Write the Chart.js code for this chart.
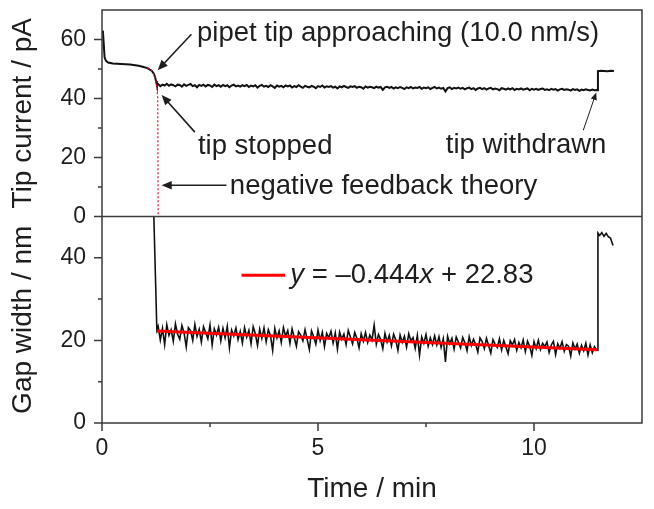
<!DOCTYPE html>
<html>
<head>
<meta charset="utf-8">
<script src="https://cdn.jsdelivr.net/npm/chart.js@4/dist/chart.umd.min.js"></script>
<style>
  body { margin: 0; background: #fff; }
  #wrap { width: 654px; height: 509px; position: relative; }
</style>
</head>
<body>
<div id="wrap"><canvas id="chart"></canvas></div>
<script>
// --- data ---
const xTicks = [0, 5, 10];
const xMinor = [2.5, 7.5];
const topTicks = [0, 20, 40, 60];
const topMinor = [10, 30, 50];
const botTicks = [0, 20, 40];
const botMinor = [10, 30];

// tip current while approaching (pA)
const approachTime = [0.02, 0.04, 0.06, 0.09, 0.14, 0.25, 0.45, 0.65, 0.85, 0.96, 1.05, 1.15, 1.20, 1.23, 1.25, 1.27];
const approachCurrent = [63.0, 58.5, 54.0, 52.8, 52.2, 51.9, 51.7, 51.5, 51.1, 50.7, 50.3, 49.4, 48.4, 47.2, 45.9, 44.6];

// noisy part after the tip stopped (shared time base, min)
const noiseTime = [
  1.30,1.35,1.40,1.45,1.50,1.55,1.60,1.65,1.70,1.75,
  1.80,1.85,1.90,1.95,2.00,2.05,2.10,2.15,2.20,2.25,
  2.30,2.35,2.40,2.45,2.50,2.55,2.60,2.65,2.70,2.75,
  2.80,2.85,2.90,2.95,3.00,3.05,3.10,3.15,3.20,3.25,
  3.30,3.35,3.40,3.45,3.50,3.55,3.60,3.65,3.70,3.75,
  3.80,3.85,3.90,3.95,4.00,4.05,4.10,4.15,4.20,4.25,
  4.30,4.35,4.40,4.45,4.50,4.55,4.60,4.65,4.70,4.75,
  4.80,4.85,4.90,4.95,5.00,5.05,5.10,5.15,5.20,5.25,
  5.30,5.35,5.40,5.45,5.50,5.55,5.60,5.65,5.70,5.75,
  5.80,5.85,5.90,5.95,6.00,6.05,6.10,6.15,6.20,6.25,
  6.30,6.35,6.40,6.45,6.50,6.55,6.60,6.65,6.70,6.75,
  6.80,6.85,6.90,6.95,7.00,7.05,7.10,7.15,7.20,7.25,
  7.30,7.35,7.40,7.45,7.50,7.55,7.60,7.65,7.70,7.75,
  7.80,7.85,7.90,7.95,8.00,8.05,8.10,8.15,8.20,8.25,
  8.30,8.35,8.40,8.45,8.50,8.55,8.60,8.65,8.70,8.75,
  8.80,8.85,8.90,8.95,9.00,9.05,9.10,9.15,9.20,9.25,
  9.30,9.35,9.40,9.45,9.50,9.55,9.60,9.65,9.70,9.75,
  9.80,9.85,9.90,9.95,10.00,10.05,10.10,10.15,10.20,10.25,
  10.30,10.35,10.40,10.45,10.50,10.55,10.60,10.65,10.70,10.75,
  10.80,10.85,10.90,10.95,11.00,11.05,11.10,11.15,11.20,11.25,
  11.30,11.35,11.40,11.45
];
const noiseCurrent = [
  44.9,44.2,44.7,44.4,45.0,44.3,44.8,44.5,44.1,44.7,
  44.6,44.0,44.8,44.3,44.6,44.9,44.2,44.5,43.8,44.6,
  44.3,44.7,44.1,44.6,44.4,43.9,44.7,44.2,44.5,44.0,
  44.6,44.2,44.5,43.8,44.4,44.7,44.1,44.4,44.0,44.5,
  44.2,44.6,43.9,44.4,44.1,44.5,43.7,44.3,44.6,44.0,
  44.3,43.9,44.5,44.1,43.6,44.4,44.0,44.3,43.8,44.4,
  44.1,44.4,43.7,44.2,43.9,44.5,44.0,43.6,44.3,44.0,
  43.8,44.3,44.0,43.5,44.2,43.9,44.4,43.7,44.1,43.9,
  44.2,43.7,44.0,43.4,44.1,43.8,44.3,43.9,43.6,44.1,
  43.9,44.2,43.6,44.0,43.8,43.3,44.1,43.7,44.0,43.8,
  43.5,44.0,43.7,43.9,42.9,43.8,44.0,43.6,43.9,43.4,
  43.8,43.5,43.9,43.6,43.2,43.8,43.5,43.9,43.4,43.7,
  43.6,43.9,43.3,43.7,43.5,43.8,43.2,43.6,43.9,43.4,
  43.7,43.3,43.6,42.4,43.5,43.8,43.2,43.6,43.4,43.7,
  43.3,43.6,43.1,43.5,43.7,43.2,43.5,42.9,43.4,43.6,
  43.2,43.5,43.0,43.4,43.6,43.1,43.4,43.2,42.8,43.5,
  43.3,43.0,43.4,43.1,43.5,42.9,43.3,43.1,43.4,43.0,
  43.2,43.4,42.8,43.3,43.0,43.3,42.9,43.2,43.4,42.9,
  43.1,42.8,43.3,43.0,43.2,42.7,43.1,43.3,42.9,43.1,
  43.0,42.7,43.2,42.9,43.1,42.6,43.0,42.8,43.1,42.9,
  42.7,43.0,42.8,42.9
];
const noiseGap = [
  23.4,20.1,22.9,19.0,23.8,21.2,22.6,19.8,24.0,21.5,
  20.3,23.6,21.8,18.4,23.1,22.4,20.0,23.9,21.0,22.7,
  19.6,23.3,21.9,20.4,23.7,18.9,22.8,21.3,23.2,19.9,
  22.9,20.6,23.4,18.2,22.5,21.1,23.0,20.2,22.2,19.4,
  23.1,20.8,22.4,19.2,23.3,21.6,18.8,22.7,20.5,23.0,
  19.7,22.6,21.2,17.6,22.9,20.6,22.3,19.5,23.1,21.0,
  22.4,19.3,22.8,20.7,18.6,22.1,21.3,19.9,22.6,20.2,
  17.8,22.3,20.9,19.1,22.5,20.0,22.0,18.5,21.7,20.6,
  22.2,19.4,21.8,17.9,22.0,20.3,21.5,19.0,22.4,20.8,
  19.2,21.9,20.5,18.2,21.6,19.8,21.9,19.5,21.3,20.1,
  23.7,19.1,21.4,20.2,18.0,21.7,19.6,21.2,18.7,21.5,
  20.1,17.6,21.3,19.5,21.0,18.4,21.6,19.9,20.7,18.1,
  21.2,16.4,20.8,19.3,21.4,18.6,20.6,19.0,21.1,18.9,
  20.9,18.3,20.4,14.8,21.0,19.2,20.5,17.9,20.8,19.6,
  18.2,20.7,19.4,17.5,20.9,18.8,20.3,19.0,17.2,20.6,
  19.7,18.0,20.5,18.7,16.9,20.2,19.1,18.3,20.4,17.7,
  20.0,18.4,16.8,19.9,18.9,20.2,17.6,19.5,18.2,20.1,
  17.3,19.8,18.6,16.4,19.7,18.0,20.0,17.8,19.3,18.5,
  19.6,17.1,18.9,19.8,16.6,19.2,18.1,19.7,17.4,19.0,
  18.6,16.2,19.4,17.9,19.1,16.9,18.8,17.5,19.3,16.5,
  18.9,17.0,18.5,17.6
];

// tip withdrawn
const withdrawTime = [11.47, 11.48, 11.55, 11.62, 11.70, 11.78, 11.85];
const withdrawCurrent = [42.8, 49.3, 49.4, 49.3, 49.2, 49.4, 49.3];
const withdrawGapTime = [11.47, 11.48, 11.52, 11.57, 11.62, 11.67, 11.72, 11.77, 11.83];
const withdrawGap = [17.6, 46.0, 45.4, 46.1, 45.2, 45.9, 45.1, 44.8, 43.0];

// gap width before the tip stopped (enters from above the panel)
const gapStartTime = [1.20, 1.27];
const gapStart = [50, 22.5];

// negative feedback theory (red dotted)
const theoryTime = [1.05, 1.15, 1.22, 1.26, 1.29, 1.30];
const theoryCurrent = [50.5, 49.5, 47.6, 45.3, 40.0, 0.3];

// linear fit y = -0.444x + 22.83
const fitTime = [1.27, 11.47];
const fitGap = [22.27, 17.74];

const axisColor = '#3c3c3c';
const textColor = '#1e1e1e';
const fontFamily = '"Liberation Sans", Arial, Helvetica, sans-serif';

function pts(xs, ys) {
  return xs.map((x, i) => ({ x: x, y: ys[i] }));
}

const currentData = pts(approachTime, approachCurrent)
  .concat(pts(noiseTime, noiseCurrent))
  .concat(pts(withdrawTime, withdrawCurrent));
const gapData = pts(gapStartTime, gapStart)
  .concat(pts(noiseTime, noiseGap))
  .concat(pts(withdrawGapTime, withdrawGap));

// arrows and labels
function arrow(ctx, x1, y1, x2, y2, head, width) {
  const ang = Math.atan2(y2 - y1, x2 - x1);
  ctx.lineWidth = width;
  ctx.beginPath();
  ctx.moveTo(x1, y1);
  ctx.lineTo(x2 - Math.cos(ang) * head * 0.8, y2 - Math.sin(ang) * head * 0.8);
  ctx.stroke();
  ctx.beginPath();
  ctx.moveTo(x2, y2);
  ctx.lineTo(x2 - head * Math.cos(ang - 0.4), y2 - head * Math.sin(ang - 0.4));
  ctx.lineTo(x2 - head * Math.cos(ang + 0.4), y2 - head * Math.sin(ang + 0.4));
  ctx.closePath();
  ctx.fill();
}

const framePlugin = {
  id: 'frame',
  afterDraw(chart) {
    const { ctx, chartArea: a, scales: { x, yTop, yBot } } = chart;
    ctx.save();
    ctx.strokeStyle = axisColor;
    ctx.lineWidth = 1.5;
    ctx.strokeRect(a.left, a.top, a.right - a.left, a.bottom - a.top);
    ctx.beginPath();
    ctx.moveTo(a.left, yBot.top);
    ctx.lineTo(a.right, yBot.top);
    ctx.stroke();

    // tick marks, outward
    ctx.beginPath();
    xTicks.forEach(v => { const px = x.getPixelForValue(v); ctx.moveTo(px, a.bottom); ctx.lineTo(px, a.bottom + 8); });
    xMinor.forEach(v => { const px = x.getPixelForValue(v); ctx.moveTo(px, a.bottom); ctx.lineTo(px, a.bottom + 4); });
    topTicks.forEach(v => { const py = yTop.getPixelForValue(v); ctx.moveTo(a.left, py); ctx.lineTo(a.left - 8, py); });
    topMinor.forEach(v => { const py = yTop.getPixelForValue(v); ctx.moveTo(a.left, py); ctx.lineTo(a.left - 4, py); });
    botTicks.forEach(v => { const py = yBot.getPixelForValue(v); ctx.moveTo(a.left, py); ctx.lineTo(a.left - 8, py); });
    botMinor.forEach(v => { const py = yBot.getPixelForValue(v); ctx.moveTo(a.left, py); ctx.lineTo(a.left - 4, py); });
    ctx.stroke();

    // annotations
    ctx.fillStyle = textColor;
    ctx.strokeStyle = textColor;
    ctx.font = '27.5px ' + fontFamily;
    ctx.textBaseline = 'middle';
    ctx.textAlign = 'left';
    const X = v => x.getPixelForValue(v);
    const T = v => yTop.getPixelForValue(v);
    const B = v => yBot.getPixelForValue(v);

    ctx.fillText('pipet tip approaching (10.0 nm/s)', X(2.2), T(61.9));
    arrow(ctx, X(2.07), T(61.8), X(1.29), T(49.6), 11, 1.6);

    ctx.fillText('tip stopped', X(2.22), T(23.6));
    arrow(ctx, X(2.15), T(28.6), X(1.38), T(41.2), 11, 1.6);

    ctx.fillText('negative feedback theory', X(2.96), T(10.1));
    arrow(ctx, X(2.88), T(10.6), X(1.38), T(10.6), 11, 1.6);

    ctx.fillText('tip withdrawn', X(7.96), T(24.2));
    arrow(ctx, X(11.14), T(29.2), X(11.44), T(42.0), 8, 1);

    // fit legend
    ctx.strokeStyle = '#ff0000';
    ctx.lineWidth = 3;
    ctx.beginPath();
    ctx.moveTo(X(3.23), B(35.8));
    ctx.lineTo(X(4.24), B(35.8));
    ctx.stroke();
    const parts = [['y', true], [' = \u20130.444', false], ['x', true], [' + 22.83', false]];
    let tx = X(4.36);
    parts.forEach(([s, it]) => {
      ctx.font = (it ? 'italic ' : '') + '27.5px ' + fontFamily;
      ctx.fillText(s, tx, B(35.8));
      tx += ctx.measureText(s).width;
    });
    ctx.restore();
  }
};

const tickFont = { family: fontFamily, size: 23 };
const titleFont = { family: fontFamily, size: 28 };

function noPad(s) {
  s.paddingTop = 0; s.paddingBottom = 0; s.paddingLeft = 0; s.paddingRight = 0;
}

new Chart(document.getElementById('chart'), {
  type: 'line',
  data: {
    datasets: [
      { data: pts(fitTime, fitGap), yAxisID: 'yBot', borderColor: '#ff0000', borderWidth: 3, order: 0 },
      { data: pts(theoryTime, theoryCurrent), yAxisID: 'yTop', borderColor: '#e0102a', borderWidth: 1.2, borderDash: [2, 2], order: 1 },
      { data: currentData, yAxisID: 'yTop', borderColor: '#111111', borderWidth: 2, order: 2 },
      { data: gapData, yAxisID: 'yBot', borderColor: '#111111', borderWidth: 1.6, order: 2 }
    ]
  },
  options: {
    responsive: true,
    maintainAspectRatio: false,
    animation: false,
    events: [],
    layout: { padding: { top: 10, right: 12, left: 0, bottom: 0 } },
    elements: { point: { radius: 0 }, line: { tension: 0 } },
    plugins: { legend: { display: false }, tooltip: { enabled: false } },
    scales: {
      x: {
        type: 'linear', min: 0, max: 12.5,
        afterBuildTicks: s => { s.ticks = xTicks.map(v => ({ value: v })); },
        afterFit: s => { s.height = 86; noPad(s); },
        grid: { display: false, drawTicks: false },
        border: { display: false },
        ticks: { font: tickFont, color: textColor, padding: 12, maxRotation: 0 },
        title: { display: true, text: 'Time / min', font: titleFont, color: textColor, padding: { top: 0, bottom: 3 } }
      },
      yBot: {
        type: 'linear', min: 0, max: 50, position: 'left', stack: 'panels', stackWeight: 1,
        afterBuildTicks: s => { s.ticks = botTicks.map(v => ({ value: v })); },
        afterFit: s => { s.width = 102; noPad(s); },
        grid: { display: false, drawTicks: false },
        border: { display: false },
        ticks: { font: tickFont, color: textColor, padding: 16 },
        title: { display: true, text: 'Gap width / nm', font: titleFont, color: textColor, padding: { top: 6, bottom: 0 } }
      },
      yTop: {
        type: 'linear', min: 0, max: 70, position: 'left', stack: 'panels', stackWeight: 1,
        afterBuildTicks: s => { s.ticks = topTicks.map(v => ({ value: v })); },
        afterFit: s => { s.width = 102; noPad(s); },
        grid: { display: false, drawTicks: false },
        border: { display: false },
        ticks: { font: tickFont, color: textColor, padding: 16 },
        title: { display: true, text: 'Tip current / pA', font: titleFont, color: textColor, padding: { top: 6, bottom: 0 } }
      }
    }
  },
  plugins: [framePlugin]
});
</script>
</body>
</html>
